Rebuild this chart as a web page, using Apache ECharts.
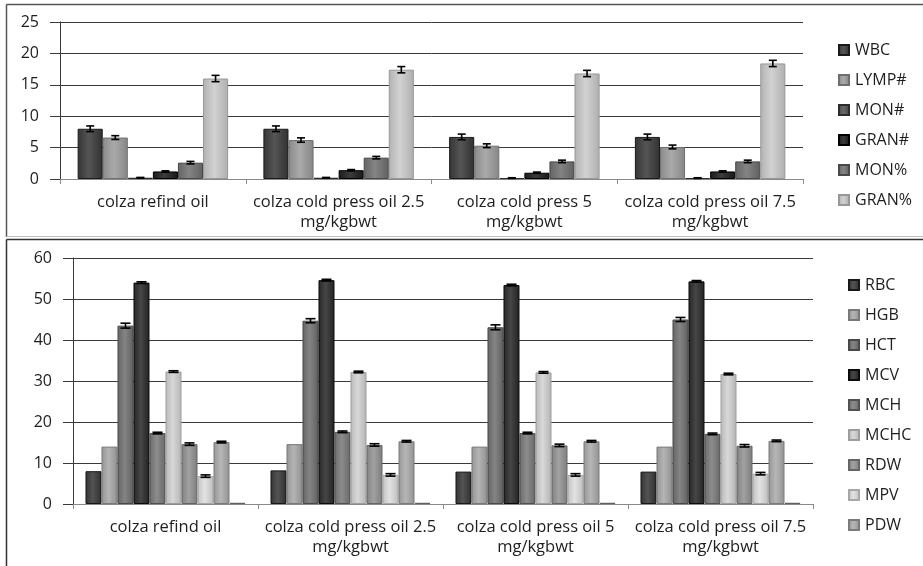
<!DOCTYPE html>
<html>
<head>
<meta charset="utf-8">
<script src="https://cdn.jsdelivr.net/npm/echarts@6/dist/echarts.min.js"></script>
<style>
  html, body { margin: 0; padding: 0; background: #fff; }
  #chart { width: 923px; height: 566px; }
</style>
</head>
<body>
<div id="chart"></div>
<script>
// ---- White blood cell panel ----
const wbcCategories = [
  'colza refind oil',
  'colza cold press oil 2.5\nmg/kgbwt',
  'colza cold press 5\nmg/kgbwt',
  'colza cold press oil 7.5\nmg/kgbwt'
];
const wbcNames = ['WBC', 'LYMP#', 'MON#', 'GRAN#', 'MON%', 'GRAN%'];
const WBC   = [8.0, 8.0, 6.7, 6.7];
const LYMP  = [6.6, 6.2, 5.3, 5.1];
const MON   = [0.2, 0.2, 0.15, 0.15];
const GRAN  = [1.2, 1.4, 1.0, 1.2];
const MONP  = [2.6, 3.4, 2.8, 2.8];
const GRANP = [16.0, 17.4, 16.8, 18.4];
const wbcErr = [
  [0.45, 0.45, 0.45, 0.45],
  [0.3, 0.35, 0.3, 0.3],
  [0.05, 0.05, 0.05, 0.05],
  [0.1, 0.1, 0.1, 0.1],
  [0.2, 0.2, 0.2, 0.2],
  [0.5, 0.5, 0.5, 0.5]
];
const wbcTicks = [0, 5, 10, 15, 20, 25];

// ---- Red cell / platelet panel ----
const rbcCategories = [
  'colza refind oil',
  'colza cold press oil 2.5\nmg/kgbwt',
  'colza cold press oil 5\nmg/kgbwt',
  'colza cold press oil 7.5\nmg/kgbwt'
];
const rbcNames = ['RBC', 'HGB', 'HCT', 'MCV', 'MCH', 'MCHC', 'RDW', 'MPV', 'PDW', 'PCT'];
const RBC  = [8.0, 8.2, 7.9, 7.9];
const HGB  = [14.0, 14.6, 14.0, 14.0];
const HCT  = [43.5, 44.7, 43.1, 45.0];
const MCV  = [54.0, 54.6, 53.4, 54.3];
const MCH  = [17.3, 17.6, 17.3, 17.1];
const MCHC = [32.3, 32.2, 32.1, 31.7];
const RDW  = [14.6, 14.4, 14.3, 14.2];
const MPV  = [6.8, 7.1, 7.1, 7.4];
const PDW  = [15.1, 15.3, 15.3, 15.4];
const PCT  = [0.3, 0.3, 0.3, 0.3];
const rbcErr = [
  [0, 0, 0, 0],
  [0, 0, 0, 0],
  [0.6, 0.5, 0.6, 0.5],
  [0.2, 0.2, 0.2, 0.2],
  [0.2, 0.2, 0.2, 0.2],
  [0.2, 0.2, 0.2, 0.2],
  [0.3, 0.3, 0.3, 0.3],
  [0.3, 0.3, 0.3, 0.3],
  [0.2, 0.2, 0.2, 0.2],
  [0, 0, 0, 0]
];
const rbcTicks = [0, 10, 20, 30, 40, 50, 60];

const wbcValues = [WBC, LYMP, MON, GRAN, MONP, GRANP];
const rbcValues = [RBC, HGB, HCT, MCV, MCH, MCHC, RDW, MPV, PDW, PCT];
const wbcColors = ['#474747', '#9c9c9c', '#5a5a5a', '#2e2e2e', '#767676', '#c4c4c4'];
const rbcColors = ['#454545', '#a6a6a6', '#767676', '#383838', '#7e7e7e', '#cacaca', '#939393', '#d4d4d4', '#a8a8a8', '#8e8e8e'];

const FONT = '"Open Sans", "DejaVu Sans", sans-serif';
const TEXT = '#1e1e1e';

function shade(hex, amt) {
  const n = parseInt(hex.slice(1), 16);
  const c = [n >> 16, (n >> 8) & 255, n & 255].map(v => Math.max(0, Math.min(255, Math.round(v + amt))));
  return 'rgb(' + c.join(',') + ')';
}
function barFill(hex) {
  return new echarts.graphic.LinearGradient(0, 0, 1, 0, [
    { offset: 0, color: shade(hex, -18) },
    { offset: 0.45, color: shade(hex, 14) },
    { offset: 1, color: shade(hex, -22) }
  ]);
}

const CAT_GAP_TOP = 0.19;
const CAT_GAP_BOT = 0.135;

function barSeries(names, values, colors, axisIdx, gap) {
  return names.map((name, i) => ({
    name: name,
    type: 'bar',
    xAxisIndex: axisIdx,
    yAxisIndex: axisIdx,
    barGap: '0%',
    barCategoryGap: (gap * 100) + '%',
    data: values[i],
    itemStyle: {
      color: barFill(colors[i]),
      borderColor: shade(colors[i], -45),
      borderWidth: 1
    },
    emphasis: { disabled: true }
  }));
}

// error bars placed on the centre of each grouped bar
function errorSeries(values, errs, axisIdx, gap, capHalf) {
  const n = values.length;
  const data = [];
  values.forEach((arr, s) => arr.forEach((v, c) => {
    if (errs[s][c] > 0) data.push([c, v, errs[s][c], s]);
  }));
  return {
    type: 'custom',
    xAxisIndex: axisIdx,
    yAxisIndex: axisIdx,
    silent: true,
    z: 5,
    data: data,
    renderItem: function (params, api) {
      const cat = api.value(0), v = api.value(1), e = api.value(2), s = api.value(3);
      const band = api.size([1, 0])[0];
      const used = band * (1 - gap);
      const bw = used / n;
      const cx = api.coord([cat, v])[0] - used / 2 + (s + 0.5) * bw;
      const yHi = api.coord([cat, v + e])[1];
      const yLo = api.coord([cat, v - e])[1];
      const st = { stroke: '#000', lineWidth: 1.6 };
      return {
        type: 'group',
        children: [
          { type: 'line', shape: { x1: cx, y1: yHi, x2: cx, y2: yLo }, style: st },
          { type: 'line', shape: { x1: cx - capHalf, y1: yHi, x2: cx + capHalf, y2: yHi }, style: st },
          { type: 'line', shape: { x1: cx - capHalf, y1: yLo, x2: cx + capHalf, y2: yLo }, style: st }
        ]
      };
    }
  };
}

function valueAxis(ticks, gridIdx) {
  return {
    type: 'value',
    gridIndex: gridIdx,
    min: ticks[0],
    max: ticks[ticks.length - 1],
    interval: ticks[1] - ticks[0],
    axisLine: { show: true, lineStyle: { color: '#3a3a3a', width: 1 } },
    axisTick: { show: true, inside: false, length: 10, lineStyle: { color: '#3a3a3a' } },
    axisLabel: { margin: 21, fontFamily: FONT, fontSize: 16, color: TEXT },
    splitLine: { show: true, lineStyle: { color: '#3a3a3a', width: 1 } }
  };
}
function categoryAxis(cats, gridIdx) {
  return {
    type: 'category',
    gridIndex: gridIdx,
    data: cats,
    axisLine: { lineStyle: { color: '#8a8a8a', width: 1 } },
    axisTick: { show: true, interval: 0, length: 5, lineStyle: { color: '#8a8a8a' } },
    axisLabel: { interval: 0, margin: 13, fontFamily: FONT, fontSize: 16.5, color: TEXT, lineHeight: 20 }
  };
}
function legend(names, top, left) {
  return {
    orient: 'vertical',
    left: left,
    top: top,
    data: names,
    itemWidth: 10,
    itemHeight: 10,
    itemGap: 14,
    icon: 'rect',
    selectedMode: false,
    textStyle: { fontFamily: FONT, fontSize: 16, color: TEXT, padding: [0, 0, 0, 1] }
  };
}

const chart = echarts.init(document.getElementById('chart'), null, { renderer: 'canvas' });
const option = {
  backgroundColor: '#ffffff',
  animation: false,
  grid: [
    { left: 60, top: 22, width: 743, height: 157 },
    { left: 73, top: 258, width: 740, height: 246 }
  ],
  xAxis: [categoryAxis(wbcCategories, 0), categoryAxis(rbcCategories, 1)],
  yAxis: [valueAxis(wbcTicks, 0), valueAxis(rbcTicks, 1)],
  legend: [
    legend(wbcNames, 37, 833),
    legend(rbcNames.slice(0, 9), 272, 843)
  ],
  graphic: [
    { type: 'line', shape: { x1: 6.5, y1: 4.5, x2: 923, y2: 4.5 }, style: { stroke: '#555', lineWidth: 1.5 } },
    { type: 'line', shape: { x1: 6.5, y1: 4.5, x2: 6.5, y2: 237 }, style: { stroke: '#555', lineWidth: 1.5 } },
    { type: 'line', shape: { x1: 6.5, y1: 236.5, x2: 923, y2: 236.5 }, style: { stroke: '#bdbdbd', lineWidth: 1 } },
    { type: 'line', shape: { x1: 6.5, y1: 239.5, x2: 923, y2: 239.5 }, style: { stroke: '#333', lineWidth: 1.5 } },
    { type: 'line', shape: { x1: 6.5, y1: 239.5, x2: 6.5, y2: 566 }, style: { stroke: '#333', lineWidth: 1.5 } }
  ],
  series: [].concat(
    barSeries(wbcNames, wbcValues, wbcColors, 0, CAT_GAP_TOP),
    barSeries(rbcNames, rbcValues, rbcColors, 1, CAT_GAP_BOT),
    [errorSeries(wbcValues, wbcErr, 0, CAT_GAP_TOP, 4),
     errorSeries(rbcValues, rbcErr, 1, CAT_GAP_BOT, 5)]
  )
};
chart.setOption(option);
</script>
</body>
</html>
